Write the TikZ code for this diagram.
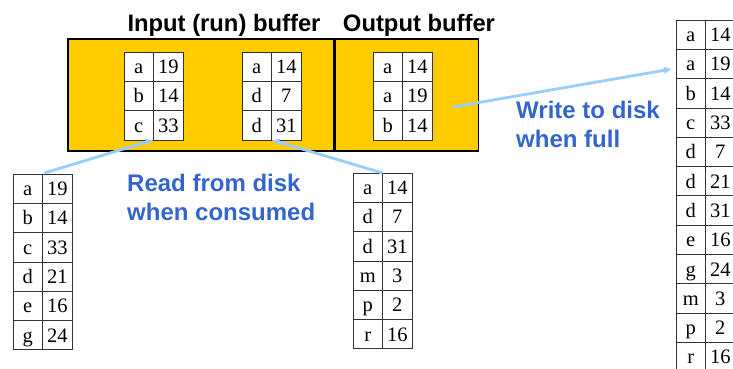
\documentclass[tikz,border=0pt]{standalone}
\usepackage{fontspec}
\setmainfont{Liberation Serif}
\setsansfont{Liberation Sans}
\usepackage{tikz}
\usetikzlibrary{positioning,arrows.meta}

\definecolor{bufyellow}{HTML}{FFCC00}
\definecolor{notetext}{HTML}{3366CC}
\definecolor{flowblue}{HTML}{99CCFF}

\tikzset{
  cell/.style={draw=black!80, line width=0.8pt, fill=white, minimum width=29.5pt,
    minimum height=29.3pt, inner sep=0pt, outer sep=0pt,
    text height=14pt, text depth=0pt, font=\fontsize{20.5}{24}\selectfont},
  bufbox/.style={draw=black, line width=1.2pt, fill=bufyellow, inner sep=0pt},
  title/.style={font=\sffamily\bfseries\fontsize{23.8}{28}\selectfont, inner sep=0pt, anchor=base},
  note/.style={font=\sffamily\bfseries\fontsize{24}{29}\selectfont, text=notetext,
    align=left, inner sep=0pt, anchor=north west},
  flow/.style={draw=flowblue, line width=2.8pt, -{Latex[length=8pt,width=8pt]}}
}

% one run table: name, left x, top y, key/value list
\newcommand{\runtab}[4]{%
  \foreach \k/\v [count=\i] in {#4} {
    \pgfmathsetmacro\rowy{#3+14.65+29.3*(\i-1)}
    \node[cell] (#1-k-\i) at ({#2+14.75},\rowy) {\k};
    \node[cell, right=0pt of #1-k-\i] (#1-v-\i) {\v};
  }}

\begin{document}
\begin{tikzpicture}[x=1pt,y=-1pt]
  \useasboundingbox (0,0) rectangle (733,369);

  % the two buffers
  \node[bufbox, minimum width=266pt, minimum height=112pt] (inbuf) at (201,95) {};
  \node[bufbox, minimum width=143pt, minimum height=112pt, right=0pt of inbuf] (outbuf) {};
  \node[title] (intitle) at (224,32) {Input (run) buffer};
  \node[title] (outtitle) at (419,32) {Output buffer};

  % tables in the buffers
  \runtab{inA}{124}{52}{a/19, b/14, c/33}
  \runtab{inB}{242}{52}{a/14, d/7, d/31}
  \runtab{outA}{373}{52}{a/14, a/19, b/14}

  % runs on disk
  \runtab{runA}{13}{174}{a/19, b/14, c/33, d/21, e/16, g/24}
  \runtab{runB}{353}{173}{a/14, d/7, d/31, m/3, p/2, r/16}
  \runtab{result}{676}{20}{a/14, a/19, b/14, c/33, d/7, d/21, d/31, e/16, g/24, m/3, p/2, r/16}

  % notes
  \node[note] (readnote) at (127,174) {Read from disk\\when consumed};
  \node[note] (writenote) at (516,101) {Write to disk\\when full};

  % flows
  \coordinate (wstart) at (453,107);
  \draw[flow] ([xshift=2pt,yshift=1pt]runA-k-1.north east) -- (inA-k-3.south east);
  \draw[flow] (runB-k-1.north east) -- (inB-k-3.south east);
  \draw[flow] (wstart) -- ([xshift=-4pt,yshift=-5pt]result-k-2.west);
\end{tikzpicture}
\end{document}
